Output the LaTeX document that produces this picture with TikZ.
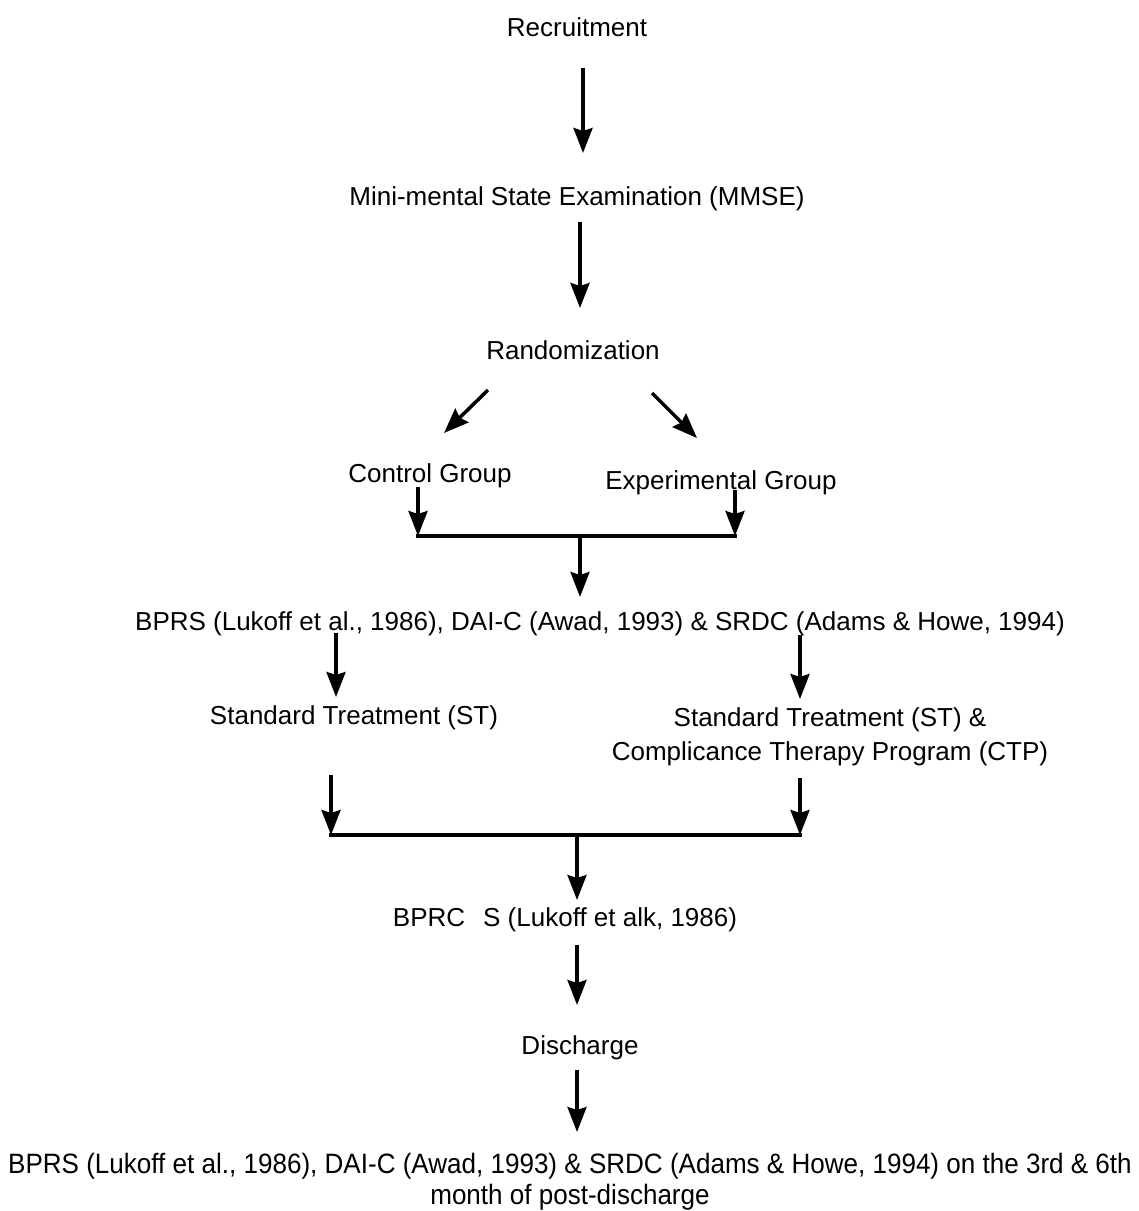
\documentclass[tikz,border=0pt]{standalone}
\usepackage{fontspec}
\setmainfont{Liberation Sans}
\usetikzlibrary{arrows.meta}
\begin{document}
\begin{tikzpicture}[x=1pt,y=-1pt,
  lbl/.style={inner sep=0pt, font=\fontsize{26}{34}\selectfont, align=center},
  arr/.style={line width=3.5pt, -{Stealth[width=19pt,length=25pt,inset=3pt]}},
  ln/.style={line width=3.5pt}]
\useasboundingbox (0,0) rectangle (1139,1211);
% text nodes
\node[lbl] (rec) at (577,27) {Recruitment};
\node[lbl] (mmse) at (577,199) {Mini-mental State Examination (MMSE)};
\node[lbl] (rand) at (573,350) {Randomization};
\node[lbl] (ctrl) at (430,476) {Control Group};
\node[lbl] (exp) at (721,483) {Experimental Group};
\node[lbl] (bprs) at (600,624) {BPRS (Lukoff et al., 1986), DAI-C (Awad, 1993) \& SRDC (Adams \& Howe, 1994)};
\node[lbl] (st) at (354,718) {Standard Treatment (ST)};
\node[lbl] (ctp) at (830,737) {Standard Treatment (ST) \&\\Complicance Therapy Program (CTP)};
\node[lbl] (bprc) at (565,920) {BPRC\hspace{18pt}S (Lukoff et alk, 1986)};
\node[lbl] (dis) at (580,1048) {Discharge};
\node[lbl, font=\fontsize{28}{31}\selectfont] (fin) at (570,1182) {\scalebox{0.93}[1]{BPRS (Lukoff et al., 1986), DAI-C (Awad, 1993) \& SRDC (Adams \& Howe, 1994) on the 3rd \& 6th}\\\scalebox{0.93}[1]{month of post-discharge}};
% connector end points
\coordinate (a1s) at (583,68);  \coordinate (a1e) at (583,153);
\coordinate (a2s) at (580,222); \coordinate (a2e) at (580,308);
\coordinate (dls) at (488,390); \coordinate (dle) at (444,433);
\coordinate (drs) at (652,393); \coordinate (dre) at (697,438);
\coordinate (cgs) at (418,487); \coordinate (j1l) at (418,536);
\coordinate (egs) at (735,490); \coordinate (j1r) at (735,536);
\coordinate (j1m) at (580,536); \coordinate (j1e) at (580,597);
\coordinate (bls) at (336,633); \coordinate (ble) at (336,697);
\coordinate (brs) at (800,635); \coordinate (bre) at (800,699);
\coordinate (sls) at (331,775); \coordinate (j2l) at (331,835);
\coordinate (srs) at (800,778); \coordinate (j2r) at (800,835);
\coordinate (j2m) at (577,835); \coordinate (j2e) at (577,900);
\coordinate (a3s) at (577,945); \coordinate (a3e) at (577,1005);
\coordinate (a4s) at (577,1070); \coordinate (a4e) at (577,1132);
% connectors
\draw[arr] (a1s) -- (a1e);
\draw[arr] (a2s) -- (a2e);
\draw[arr] (dls) -- (dle);
\draw[arr] (drs) -- (dre);
\draw[arr] (cgs) -- (j1l);
\draw[arr] (egs) -- (j1r);
\draw[ln] ([xshift=-1.75pt]j1l) -- ([xshift=1.75pt]j1r);
\draw[arr] (j1m) -- (j1e);
\draw[arr] (bls) -- (ble);
\draw[arr] (brs) -- (bre);
\draw[arr] (sls) -- (j2l);
\draw[arr] (srs) -- (j2r);
\draw[ln] ([xshift=-1.75pt]j2l) -- ([xshift=1.75pt]j2r);
\draw[arr] (j2m) -- (j2e);
\draw[arr] (a3s) -- (a3e);
\draw[arr] (a4s) -- (a4e);
\end{tikzpicture}
\end{document}
